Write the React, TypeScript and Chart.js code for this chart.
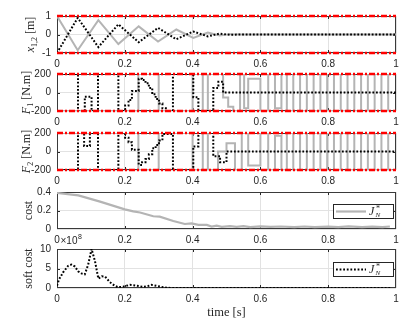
import React, { useEffect, useRef } from 'react';
import { Chart, registerables } from 'chart.js';

Chart.register(...registerables);

const CANVAS_W = 415;
const PLOT_LEFT = 57;
const PLOT_RIGHT = 396;
const RED = '#ff0000';
const GRAY = '#b4b4b4';
const BLACK = '#000000';
const TXT = '#262626';
const GRID = '#e2e2e2';
const SANS = '"Liberation Sans", Arial, sans-serif';
const SERIF = '"Liberation Serif", "Times New Roman", serif';

// ---- tick labels ----
const X_TICKS = [0, 0.2, 0.4, 0.6, 0.8, 1];
const POS_TICKS = [-1, 0, 1];
const FORCE_TICKS = [-200, 0, 200];
const COST_TICKS = [0, 0.2, 0.4];
const SOFT_TICKS = [0, 5, 10];

// ---- subplot 1 : positions x1, x2 [m] ----
const POS_T = [0, 0.061, 0.122, 0.181, 0.241, 0.298, 0.352, 0.402, 0.445, 0.48, 0.51, 0.54, 1];
const POS_X1 = [1, -0.85, 0.78, -0.52, 0.44, -0.38, 0.27, -0.18, 0.1, -0.05, 0.02, 0, 0];
const POS_X2 = [-1, 0.9, -0.68, 0.55, -0.42, 0.36, -0.26, 0.16, -0.1, 0.05, -0.02, 0, 0];

// ---- subplot 2 : F1 [N.m] (zero-order hold: value starts at time) ----
const F1_BLACK_T = [0, 0.062, 0.082, 0.102, 0.121, 0.181, 0.201, 0.211, 0.221, 0.241, 0.251, 0.261, 0.271, 0.281, 0.291, 0.301, 0.311, 0.321, 0.342, 0.402, 0.417, 0.461, 0.476, 0.49, 1];
const F1_BLACK_V = [200, -200, -45, -200, 200, -200, -140, -80, 15, 150, 135, 100, 50, -20, -70, -120, -170, -200, 200, -50, -200, 50, 115, 0, 0];
const F1_GRAY_T = [0, 0.24, 0.3, 0.4, 0.43, 0.445, 0.49, 0.505, 0.52, 0.54, 0.552, 0.564, 0.6, 0.623, 0.643, 0.662, 0.678, 0.697, 0.717, 0.737, 0.757, 0.777, 0.797, 0.817, 0.837, 0.857, 0.877, 0.897, 0.917, 0.937, 0.957, 0.977, 0.99];
const F1_GRAY_V = [-200, 200, -200, 200, -200, 200, -55, -155, -200, 200, -170, 150, -200, 200, -170, 200, -200, 200, -200, 200, -200, 200, -200, 200, -200, 200, -200, 200, -200, 200, -200, 200, 200];

// ---- subplot 3 : F2 [N.m] ----
const F2_BLACK_T = [0, 0.062, 0.08, 0.097, 0.121, 0.181, 0.201, 0.211, 0.221, 0.241, 0.251, 0.261, 0.271, 0.281, 0.291, 0.301, 0.311, 0.342, 0.402, 0.417, 0.461, 0.481, 0.5, 1];
const F2_BLACK_V = [-200, 200, 60, 200, -200, 200, 150, 100, 20, -145, -115, -80, -30, 35, 70, 120, 190, -200, 55, 200, -50, -115, 0, 0];
const F2_GRAY_T = [0, 0.24, 0.3, 0.4, 0.43, 0.445, 0.475, 0.5, 0.525, 0.545, 0.564, 0.6, 0.623, 0.643, 0.662, 0.678, 0.697, 0.717, 0.737, 0.757, 0.777, 0.797, 0.817, 0.837, 0.857, 0.877, 0.897, 0.917, 0.937, 0.957, 0.977, 0.99];
const F2_GRAY_V = [200, -200, 200, -200, 200, -200, 0, 90, -200, 200, -150, 200, -200, 170, -200, 200, -200, 200, -200, 200, -200, 200, -200, 200, -200, 200, -200, 200, -200, 200, -200, -200];

// ---- subplot 4 : cost ----
const COST_T = [0, 0.063, 0.127, 0.2, 0.225, 0.245, 0.284, 0.303, 0.343, 0.377, 0.397, 0.417, 0.442, 0.456, 0.471, 0.486, 0.51, 0.53, 0.55, 0.57, 0.6, 0.63, 0.66, 0.7, 0.73, 0.76, 0.8, 0.83, 0.86, 0.9, 0.93, 0.96, 0.982];
const COST_V = [0.39, 0.363, 0.296, 0.212, 0.19, 0.178, 0.138, 0.134, 0.087, 0.054, 0.06, 0.044, 0.044, 0.027, 0.037, 0.024, 0.03, 0.022, 0.03, 0.02, 0.028, 0.022, 0.027, 0.02, 0.027, 0.021, 0.026, 0.02, 0.028, 0.021, 0.026, 0.02, 0.027];

// ---- subplot 5 : soft cost (x 10^8) ----
const SOFT_T = [0, 0.006, 0.018, 0.033, 0.043, 0.053, 0.062, 0.072, 0.082, 0.092, 0.102, 0.112, 0.122, 0.132, 0.142, 0.156, 0.17, 0.18, 0.195, 0.215, 0.234, 0.254, 0.268, 0.279, 0.299, 0.32, 0.34, 0.5, 0.7, 0.983];
const SOFT_V = [0.6, 2.2, 4.0, 5.7, 6.0, 5.5, 4.3, 3.75, 3.5, 6.0, 10, 6.9, 2.4, 3.0, 2.9, 1.5, 0.6, 0.2, 0.35, 0.8, 0.6, 0.3, 0.5, 0.8, 0.45, 0.1, 0, 0, 0, 0];

type Part = { text: string; font: string; dy: number };
type Series = { t: number[]; v: number[]; color: string; width: number; dash: number[]; stepped: boolean };
type LegendSpec = { color: string; width: number; dash: number[] };

interface SubProps {
  top: number;
  height: number;
  padTop: number;
  padBottom: number;
  yMin: number;
  yMax: number;
  yTicks: number[];
  series: Series[];
  red: boolean;
  label: Part[];
  labelX: number;
  legend?: LegendSpec;
  exponent?: boolean;
  xTitle?: string;
}

const DOTTED = [1.8, 1.8];

function fmt(v: number): string {
  return String(Math.round(v * 1000) / 1000);
}

function drawRotated(ctx: CanvasRenderingContext2D, parts: Part[], cx: number, cy: number) {
  ctx.save();
  let total = 0;
  const widths = parts.map((pt) => {
    ctx.font = pt.font;
    const w = ctx.measureText(pt.text).width;
    total += w;
    return w;
  });
  ctx.translate(cx, cy);
  ctx.rotate(-Math.PI / 2);
  let x = -total / 2;
  ctx.textBaseline = 'alphabetic';
  ctx.textAlign = 'left';
  ctx.fillStyle = TXT;
  parts.forEach((pt, i) => {
    ctx.font = pt.font;
    ctx.fillText(pt.text, x, 4 + pt.dy);
    x += widths[i];
  });
  ctx.restore();
}

function Sub(p: SubProps) {
  const ref = useRef<HTMLCanvasElement>(null);
  const h = p.padTop + p.height + p.padBottom;
  const canvasTop = p.top - p.padTop;

  useEffect(() => {
    const canvas = ref.current;
    if (!canvas) return;
    const datasets: any[] = [];
    if (p.red) {
      [p.yMax, p.yMin].forEach((yv) => {
        datasets.push({
          data: [{ x: 0, y: yv }, { x: 1, y: yv }],
          borderColor: RED,
          borderWidth: 2.5,
          borderDash: [6, 2, 2, 2],
          borderCapStyle: 'butt',
          pointRadius: 0,
          fill: false,
          clip: false,
        });
      });
    }
    p.series.forEach((s) => {
      datasets.push({
        data: s.t.map((t, i) => ({ x: t, y: s.v[i] })),
        borderColor: s.color,
        borderWidth: s.width,
        borderDash: s.dash,
        borderCapStyle: 'butt',
        stepped: s.stepped,
        tension: 0,
        pointRadius: 0,
        fill: false,
      });
    });

    const deco = {
      id: 'deco',
      beforeDatasetsDraw(chart: any) {
        const ctx: CanvasRenderingContext2D = chart.ctx;
        const a = chart.chartArea;
        const xs = chart.scales.x;
        const ys = chart.scales.y;
        ctx.save();
        ctx.strokeStyle = TXT;
        ctx.lineWidth = 1;
        ctx.beginPath();
        X_TICKS.slice(1, -1).forEach((v) => {
          const px = Math.round(xs.getPixelForValue(v)) + 0.5;
          ctx.moveTo(px, a.bottom);
          ctx.lineTo(px, a.bottom - 3);
          ctx.moveTo(px, a.top);
          ctx.lineTo(px, a.top + 3);
        });
        p.yTicks.slice(1, -1).forEach((v) => {
          const py = Math.round(ys.getPixelForValue(v)) + 0.5;
          ctx.moveTo(a.left, py);
          ctx.lineTo(a.left + 3, py);
          ctx.moveTo(a.right, py);
          ctx.lineTo(a.right - 3, py);
        });
        ctx.stroke();
        ctx.strokeStyle = '#3a3a3a';
        ctx.strokeRect(Math.round(a.left) + 0.5, Math.round(a.top) + 0.5, Math.round(a.right - a.left) - 1, Math.round(a.bottom - a.top) - 1);
        ctx.restore();
      },
      afterDraw(chart: any) {
        const ctx: CanvasRenderingContext2D = chart.ctx;
        const a = chart.chartArea;
        const cy = (a.top + a.bottom) / 2;
        drawRotated(ctx, p.label, p.labelX, cy);
        if (p.legend) {
          const lg = p.legend;
          ctx.save();
          const bx = 333;
          const bw = 60;
          const bh = 14;
          const by = Math.round(cy - bh / 2);
          ctx.fillStyle = '#ffffff';
          ctx.fillRect(bx, by, bw, bh);
          ctx.strokeStyle = TXT;
          ctx.lineWidth = 1;
          ctx.strokeRect(bx + 0.5, by + 0.5, bw, bh);
          ctx.beginPath();
          ctx.strokeStyle = lg.color;
          ctx.lineWidth = lg.width;
          ctx.setLineDash(lg.dash);
          ctx.moveTo(336, by + bh / 2 + 0.5);
          ctx.lineTo(366, by + bh / 2 + 0.5);
          ctx.stroke();
          ctx.setLineDash([]);
          ctx.fillStyle = TXT;
          ctx.textBaseline = 'alphabetic';
          ctx.font = 'italic 12px ' + SERIF;
          ctx.fillText('J', 369, by + 11);
          ctx.font = '8px ' + SERIF;
          ctx.fillText('*', 376, by + 7);
          ctx.font = 'italic 7px ' + SERIF;
          ctx.fillText('N', 375.5, by + 13);
          ctx.restore();
        }
        if (p.exponent) {
          ctx.save();
          ctx.fillStyle = TXT;
          ctx.textBaseline = 'alphabetic';
          ctx.font = '10px ' + SANS;
          const baseY = 243.5 - canvasTop;
          ctx.fillText('\u00d710', 60.5, baseY);
          const w = ctx.measureText('\u00d710').width;
          ctx.font = '7px ' + SANS;
          ctx.fillText('8', 60.5 + w + 0.5, baseY - 4.5);
          ctx.restore();
        }
        if (p.xTitle) {
          ctx.save();
          ctx.fillStyle = TXT;
          ctx.font = '12.5px ' + SERIF;
          ctx.textAlign = 'center';
          ctx.textBaseline = 'middle';
          ctx.fillText(p.xTitle, (PLOT_LEFT + PLOT_RIGHT) / 2, 313 - canvasTop);
          ctx.restore();
        }
      },
    };

    const chart = new Chart(canvas, {
      type: 'line',
      data: { datasets },
      options: {
        animation: false,
        responsive: false,
        maintainAspectRatio: false,
        events: [],
        layout: { padding: { left: 0, right: CANVAS_W - PLOT_RIGHT, top: p.padTop, bottom: 0 } },
        plugins: { legend: { display: false }, tooltip: { enabled: false } },
        elements: { point: { radius: 0 }, line: { tension: 0 } },
        scales: {
          x: {
            type: 'linear',
            min: 0,
            max: 1,
            afterFit: (s: any) => {
              s.height = p.padBottom;
            },
            afterBuildTicks: (s: any) => {
              s.ticks = X_TICKS.map((v) => ({ value: v }));
            },
            ticks: {
              autoSkip: false,
              maxRotation: 0,
              padding: 5,
              color: TXT,
              font: { family: SANS, size: 10 },
              callback: (v: any) => fmt(Number(v)),
            },
            grid: { color: GRID, drawTicks: false },
            border: { display: false },
          },
          y: {
            type: 'linear',
            min: p.yMin,
            max: p.yMax,
            afterFit: (s: any) => {
              s.width = PLOT_LEFT;
            },
            afterBuildTicks: (s: any) => {
              s.ticks = p.yTicks.map((v) => ({ value: v }));
            },
            ticks: {
              autoSkip: false,
              padding: 6,
              color: TXT,
              font: { family: SANS, size: 10 },
              callback: (v: any) => fmt(Number(v)),
            },
            grid: { color: GRID, drawTicks: false },
            border: { display: false },
          },
        },
      } as any,
      plugins: [deco],
    });
    return () => chart.destroy();
  }, []);

  return (
    <canvas
      ref={ref}
      width={CANVAS_W}
      height={h}
      style={{ position: 'absolute', left: 0, top: canvasTop, width: CANVAS_W, height: h }}
    />
  );
}

const S12 = '12px ' + SERIF;
const I12 = 'italic 12px ' + SERIF;
const S8 = '8px ' + SERIF;

export default function App() {
  return (
    <div style={{ position: 'absolute', left: 0, top: 0, width: 415, height: 326, background: '#ffffff', overflow: 'hidden' }}>
      <Sub
        top={14}
        height={39}
        padTop={10}
        padBottom={18}
        yMin={-1}
        yMax={1}
        yTicks={POS_TICKS}
        red={true}
        series={[
          { t: POS_T, v: POS_X2, color: BLACK, width: 2, dash: DOTTED, stepped: false },
          { t: POS_T, v: POS_X1, color: GRAY, width: 2, dash: [], stepped: false },
        ]}
        label={[
          { text: 'x', font: I12, dy: 0 },
          { text: '1,2', font: S8, dy: 3 },
          { text: ' [m]', font: S12, dy: 0 },
        ]}
        labelX={30}
      />
      <Sub
        top={72}
        height={39}
        padTop={10}
        padBottom={18}
        yMin={-200}
        yMax={200}
        yTicks={FORCE_TICKS}
        red={true}
        series={[
          { t: F1_BLACK_T, v: F1_BLACK_V, color: BLACK, width: 2, dash: DOTTED, stepped: true },
          { t: F1_GRAY_T, v: F1_GRAY_V, color: GRAY, width: 2, dash: [], stepped: true },
        ]}
        label={[
          { text: 'F', font: I12, dy: 0 },
          { text: '1', font: S8, dy: 3 },
          { text: ' [N.m]', font: S12, dy: 0 },
        ]}
        labelX={26}
      />
      <Sub
        top={131}
        height={39}
        padTop={10}
        padBottom={18}
        yMin={-200}
        yMax={200}
        yTicks={FORCE_TICKS}
        red={true}
        series={[
          { t: F2_BLACK_T, v: F2_BLACK_V, color: BLACK, width: 2, dash: DOTTED, stepped: true },
          { t: F2_GRAY_T, v: F2_GRAY_V, color: GRAY, width: 2, dash: [], stepped: true },
        ]}
        label={[
          { text: 'F', font: I12, dy: 0 },
          { text: '2', font: S8, dy: 3 },
          { text: ' [N.m]', font: S12, dy: 0 },
        ]}
        labelX={26}
      />
      <Sub
        top={190}
        height={39}
        padTop={10}
        padBottom={18}
        yMin={0}
        yMax={0.4}
        yTicks={COST_TICKS}
        red={false}
        series={[{ t: COST_T, v: COST_V, color: GRAY, width: 2.2, dash: [], stepped: false }]}
        label={[{ text: 'cost', font: S12, dy: 0 }]}
        labelX={28}
        legend={{ color: GRAY, width: 2.2, dash: [] }}
      />
      <Sub
        top={249}
        height={39}
        padTop={18}
        padBottom={36}
        yMin={0}
        yMax={10}
        yTicks={SOFT_TICKS}
        red={false}
        series={[{ t: SOFT_T, v: SOFT_V, color: BLACK, width: 2, dash: DOTTED, stepped: false }]}
        label={[{ text: 'soft cost', font: S12, dy: 0 }]}
        labelX={28}
        legend={{ color: BLACK, width: 2, dash: DOTTED }}
        exponent={true}
        xTitle="time [s]"
      />
    </div>
  );
}
